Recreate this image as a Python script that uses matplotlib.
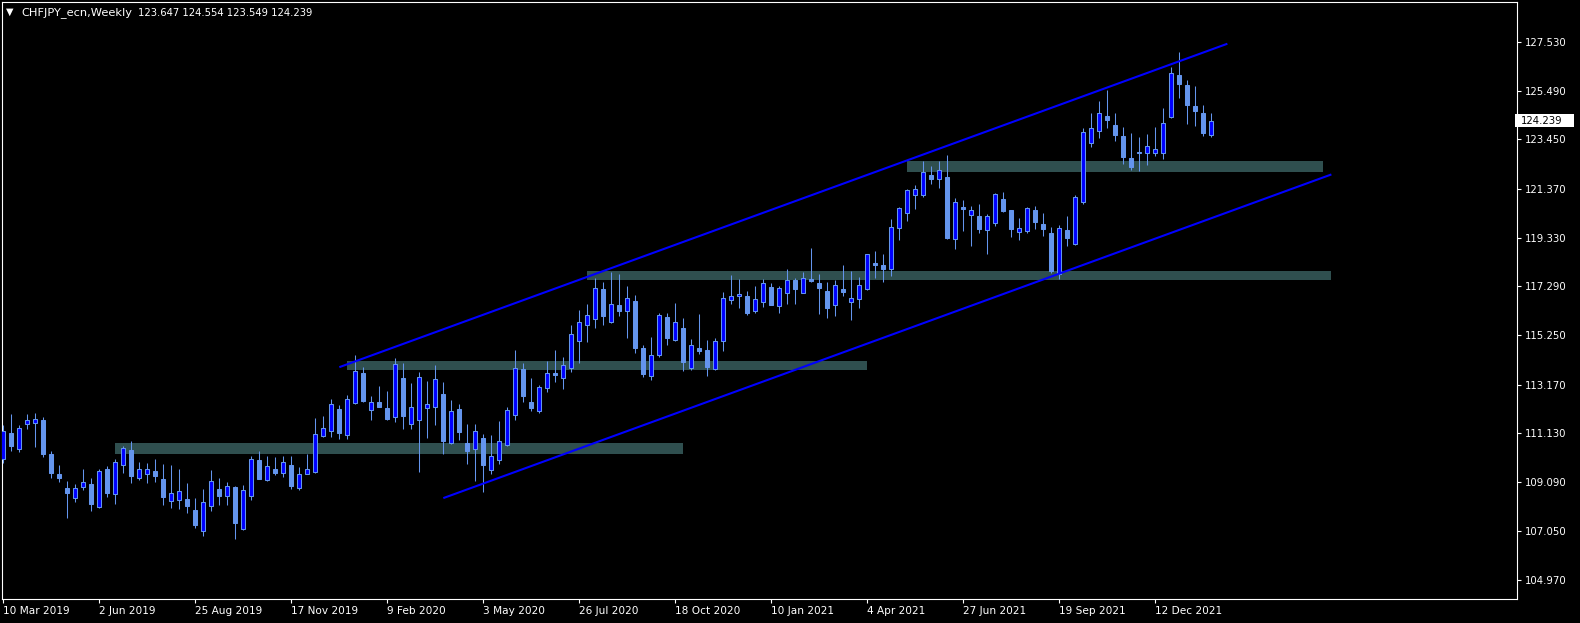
import numpy as np
import pandas as pd
import matplotlib
matplotlib.use("Agg")
import matplotlib.pyplot as plt
from matplotlib.patches import Rectangle
import matplotlib.transforms as mtransforms

# ---------------- data ----------------
symbol_title = "CHFJPY_ecn,Weekly"
first_week = "2019-03-10"

opens = [110.07, 111.14, 110.45, 111.50, 111.54, 111.68, 110.26, 109.42, 108.83, 108.40,
         108.86, 109.00, 108.02, 109.63, 108.59, 109.78, 110.42, 109.24, 109.44, 109.54,
         109.21, 108.27, 108.31, 108.37, 107.91, 107.04, 108.06, 108.79, 108.48, 108.87,
         107.13, 108.48, 110.00, 109.19, 109.63, 109.45, 109.79, 108.84, 109.43, 109.49,
         111.00, 111.21, 112.14, 111.04, 112.38, 113.65, 112.09, 112.44, 112.18, 111.83,
         113.44, 111.50, 111.67, 112.17, 112.21, 112.76, 110.70, 112.14, 110.72, 110.45,
         110.93, 109.57, 109.99, 110.62, 111.91, 113.82, 112.44, 112.07, 113.01, 113.65,
         113.46, 113.85, 114.98, 115.65, 115.94, 117.17, 115.80, 116.49, 116.24, 116.67,
         114.70, 113.54, 114.42, 115.99, 115.05, 115.54, 113.88, 114.70, 114.62, 113.81,
         114.98, 116.70, 116.87, 116.88, 116.27, 116.64, 117.26, 116.45, 117.03, 117.55,
         117.03, 117.59, 117.43, 117.09, 116.49, 117.16, 116.64, 116.74, 117.16, 118.25,
         118.17, 118.00, 119.72, 120.35, 121.10, 121.10, 121.95, 121.77, 121.87, 119.26,
         120.60, 120.26, 120.22, 119.63, 119.93, 120.93, 120.47, 119.55, 119.59, 120.47,
         119.89, 119.51, 117.80, 119.63, 119.08, 120.84, 123.28, 123.79, 124.41, 124.04,
         123.58, 122.67, 122.92, 122.86, 122.86, 122.86, 124.37, 126.15, 125.71, 124.85,
         124.55, 123.647]
highs = [111.47, 111.93, 111.47, 111.93, 111.99, 111.81, 110.38, 109.79, 109.12, 109.00,
         109.63, 109.26, 109.63, 109.75, 110.03, 110.60, 110.80, 109.92, 109.88, 110.05,
         109.84, 109.79, 109.63, 109.04, 108.41, 108.79, 109.58, 109.25, 109.08, 108.90,
         108.96, 110.17, 110.38, 110.17, 110.13, 110.17, 110.17, 109.71, 110.26, 111.77,
         111.85, 112.56, 112.31, 112.72, 114.41, 113.90, 112.70, 113.11, 112.90, 114.28,
         114.07, 113.23, 113.69, 113.33, 113.97, 113.28, 112.52, 112.35, 111.51, 111.51,
         111.10, 111.05, 111.64, 112.23, 114.62, 114.07, 113.44, 113.15, 114.16, 114.62,
         114.32, 115.67, 116.28, 116.55, 117.64, 117.47, 117.89, 117.80, 117.30, 116.92,
         114.81, 115.16, 116.17, 116.17, 116.59, 115.96, 115.08, 116.13, 115.04, 115.12,
         117.05, 117.76, 117.59, 117.09, 117.30, 117.59, 117.43, 117.29, 118.01, 117.64,
         117.89, 118.89, 117.80, 117.47, 117.57, 118.18, 117.93, 117.68, 118.66, 118.77,
         118.64, 120.11, 120.60, 121.37, 121.53, 122.54, 122.33, 122.54, 122.79, 120.98,
         120.89, 120.64, 120.72, 120.32, 121.19, 121.23, 120.51, 120.14, 120.63, 120.64,
         120.36, 119.76, 119.84, 120.24, 121.10, 123.91, 124.55, 125.06, 125.52, 124.54,
         123.95, 123.72, 123.55, 123.67, 123.99, 124.75, 126.50, 127.10, 125.92, 125.69,
         124.88, 124.554]
lows = [109.89, 110.40, 110.35, 111.29, 110.56, 110.14, 109.26, 109.10, 107.59, 108.26,
        108.77, 107.89, 107.98, 108.47, 108.17, 109.47, 109.05, 109.17, 109.05, 109.10,
        108.13, 108.01, 107.96, 107.80, 107.17, 106.83, 107.88, 108.13, 108.13, 106.69,
        107.08, 108.34, 109.20, 109.11, 109.39, 109.31, 108.80, 108.76, 109.40, 109.45,
        110.97, 110.98, 110.90, 110.90, 112.35, 112.44, 111.70, 112.22, 111.70, 111.61,
        111.32, 111.32, 109.52, 110.94, 111.49, 110.27, 110.68, 110.86, 109.85, 109.14,
        108.65, 109.43, 109.85, 110.58, 111.70, 112.45, 112.07, 111.98, 112.87, 113.28,
        113.00, 113.71, 114.09, 114.95, 115.55, 115.68, 115.76, 116.04, 115.13, 114.50,
        113.50, 113.37, 114.34, 114.84, 115.01, 113.75, 113.79, 114.46, 113.54, 113.79,
        114.59, 116.56, 116.39, 116.10, 116.15, 116.43, 116.49, 116.18, 116.56, 116.56,
        116.99, 117.47, 116.14, 115.97, 116.06, 116.89, 115.89, 116.39, 117.13, 117.65,
        117.48, 117.73, 119.24, 120.04, 120.54, 121.02, 121.59, 121.42, 119.28, 118.87,
        119.62, 118.99, 119.54, 118.66, 119.83, 120.39, 119.37, 119.24, 119.51, 119.68,
        119.41, 117.86, 117.58, 118.99, 119.03, 120.75, 123.11, 123.52, 123.94, 123.39,
        122.43, 122.18, 122.14, 122.39, 122.76, 122.64, 124.35, 125.20, 124.11, 124.02,
        123.60, 123.549]
closes = [111.21, 110.59, 111.33, 111.67, 111.71, 110.28, 109.47, 109.26, 108.63, 108.83,
          109.07, 108.17, 109.54, 108.63, 109.91, 110.49, 109.35, 109.63, 109.65, 109.35,
          108.47, 108.61, 108.69, 108.09, 107.29, 108.23, 109.11, 108.51, 108.91, 107.38,
          108.77, 110.07, 109.22, 109.74, 109.47, 109.91, 108.93, 109.40, 109.65, 111.08,
          111.37, 112.34, 111.15, 112.55, 113.75, 112.48, 112.46, 112.24, 111.74, 114.02,
          111.86, 112.21, 113.47, 112.34, 113.39, 110.80, 112.05, 111.19, 110.40, 111.21,
          109.81, 110.16, 110.79, 112.09, 113.85, 112.70, 112.20, 113.05, 113.64, 113.58,
          113.97, 115.27, 115.78, 116.07, 117.24, 116.06, 116.53, 116.27, 116.78, 114.71,
          113.62, 114.43, 116.07, 115.13, 115.78, 114.13, 114.81, 114.59, 113.92, 114.98,
          116.82, 116.87, 116.95, 116.18, 116.74, 117.41, 116.52, 117.24, 117.54, 117.19,
          117.62, 117.52, 117.23, 116.39, 117.33, 117.06, 116.78, 117.33, 118.63, 118.19,
          118.03, 119.76, 120.56, 121.31, 121.35, 122.07, 121.80, 122.15, 119.31, 120.81,
          120.54, 120.47, 119.70, 120.22, 121.14, 120.46, 119.70, 119.72, 120.56, 120.00,
          119.70, 117.94, 119.75, 119.33, 121.02, 123.74, 123.91, 124.54, 124.27, 123.65,
          122.72, 122.30, 122.89, 123.16, 123.03, 124.12, 126.22, 125.78, 124.90, 124.65,
          123.73, 124.239]

date_tick_labels = ["10 Mar 2019", "2 Jun 2019", "25 Aug 2019", "17 Nov 2019", "9 Feb 2020",
                    "3 May 2020", "26 Jul 2020", "18 Oct 2020", "10 Jan 2021", "4 Apr 2021",
                    "27 Jun 2021", "19 Sep 2021", "12 Dec 2021"]
price_ticks = [127.530, 125.490, 123.450, 121.370, 119.330, 117.290, 115.250,
               113.170, 111.130, 109.090, 107.050, 104.970]

zone_starts = ["2019-06-16", "2020-01-05", "2020-08-02", "2021-05-09"]
zone_ends = ["2020-10-25", "2021-04-04", "2022-05-15", "2022-05-08"]
zone_lows = [110.27, 113.79, 117.56, 122.09]
zone_highs = [110.72, 114.16, 117.93, 122.54]

channel_start_dates = ["2019-12-29", "2020-03-29"]
channel_end_dates = ["2022-02-13", "2022-05-15"]
channel_start_prices = [113.90, 108.41]
channel_end_prices = [127.46, 121.98]

# ---------------- helpers ----------------
t0 = pd.Timestamp(first_week)
def week_index(d):
    return (pd.Timestamp(d) - t0).days / 7.0

o = np.array(opens); h = np.array(highs); l = np.array(lows); c = np.array(closes)
n = len(o)
x = np.arange(n)
up = c >= o

BG = "black"
FG = "white"
BEAR = "#6495ED"
BULL = "#0000FF"
WICK = "#6495ED"
ZONE = "#2F4F4F"
LINE = "#0000FF"
FS = 7.3

W, H = 1580, 623
fig = plt.figure(figsize=(W / 100, H / 100), dpi=100, facecolor=BG)
ax_l, ax_r, ax_t, ax_b = 2, 1517, 2, 599
ax = fig.add_axes([ax_l / W, (H - ax_b) / H, (ax_r - ax_l) / W, (ax_b - ax_t) / H])
ax.set_facecolor(BG)

# zones
for s, e, lo, hi in zip(zone_starts, zone_ends, zone_lows, zone_highs):
    xs, xe = week_index(s), week_index(e)
    ax.add_patch(Rectangle((xs, lo), xe - xs, hi - lo, facecolor=ZONE, edgecolor="none", zorder=1))

# candles
ax.vlines(x, l, h, color=WICK, linewidth=0.75, zorder=3)
body_lo = np.minimum(o, c)
body_h = np.maximum(np.abs(c - o), 0.01)
ax.bar(x[up], body_h[up], bottom=body_lo[up], width=0.5, color=BULL,
       edgecolor=BEAR, linewidth=0.75, zorder=4)
ax.bar(x[~up], body_h[~up], bottom=body_lo[~up], width=0.5, color=BEAR,
       edgecolor=BEAR, linewidth=0.75, zorder=4)

# channel lines
for sd, ed, sp, ep in zip(channel_start_dates, channel_end_dates, channel_start_prices, channel_end_prices):
    ax.plot([week_index(sd), week_index(ed)], [sp, ep], color=LINE, linewidth=1.5,
            solid_capstyle="butt", zorder=5)

ax.set_xlim(-0.16, 189.2)
ax.set_ylim(104.18, 129.21)

for sp in ax.spines.values():
    sp.set_color(FG)
    sp.set_linewidth(0.8)

ax.yaxis.tick_right()
ax.set_yticks(price_ticks)
ax.set_yticklabels([f"{p:.3f}" for p in price_ticks])
ax.tick_params(axis="y", colors=FG, labelcolor=FG, labelsize=FS, length=3, width=0.8,
               direction="out", pad=2.5, left=False, right=True)
ax.set_xticks(np.arange(len(date_tick_labels)) * 12)
ax.set_xticklabels(date_tick_labels)
for lbl in ax.get_xticklabels():
    lbl.set_horizontalalignment("left")
    lbl.set_fontsize(7.6)
ax.tick_params(axis="x", colors=FG, labelcolor=FG, length=3, width=0.8,
               direction="out", pad=2)

# current price box
fig.canvas.draw()
ypx = ax.transData.transform((0, c[-1]))[1]
fig.add_artist(Rectangle((1515, ypx - 6.5), 59, 13, transform=mtransforms.IdentityTransform(),
                         facecolor="white", edgecolor="none", zorder=10))
fig.text(1521 / W, ypx / H, f"{c[-1]:.3f}", color="black", fontsize=FS, va="center", ha="left", zorder=11)

# title
fig.text(6 / W, 1 - 12 / H, "\u25BC", color=FG, fontsize=7, va="center", ha="left")
fig.text(21 / W, 1 - 12.5 / H, symbol_title, color=FG, fontsize=8.2, va="center", ha="left")
fig.text(138 / W, 1 - 12.5 / H,
         f"{o[-1]:.3f} {h[-1]:.3f} {l[-1]:.3f} {c[-1]:.3f}",
         color=FG, fontsize=7.2, va="center", ha="left")

fig.savefig("out.png", dpi=100, facecolor=BG)
